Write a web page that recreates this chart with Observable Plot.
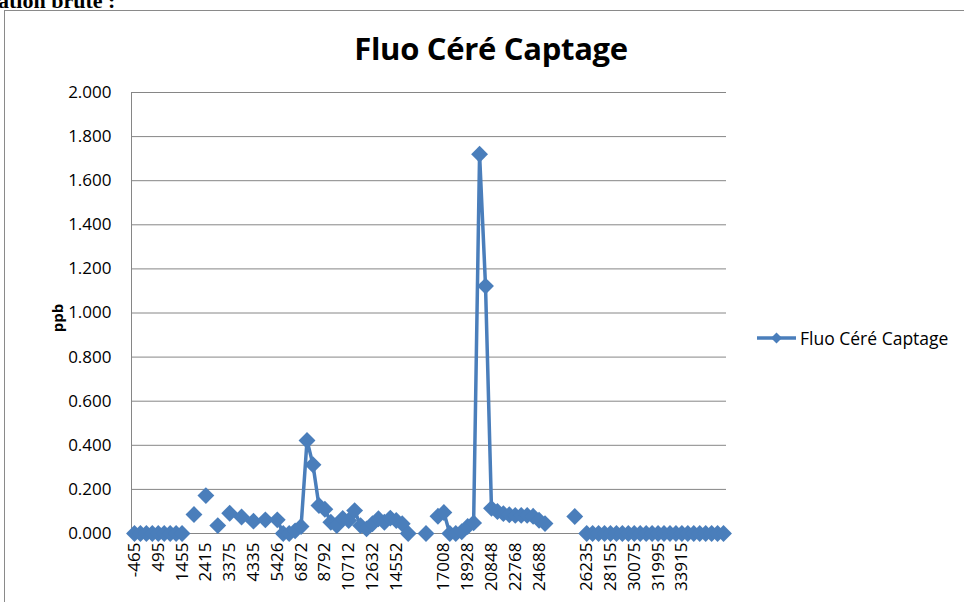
<!DOCTYPE html>
<html>
<head>
<meta charset="utf-8">
<script src="https://cdn.jsdelivr.net/npm/d3@7"></script>
<script src="https://cdn.jsdelivr.net/npm/@observablehq/plot@0.6"></script>
<style>
  html, body { margin: 0; padding: 0; background: #fff; }
  #wrap { position: relative; width: 964px; height: 602px; overflow: hidden; font-family: "Open Sans", sans-serif; }
  #heading { position: absolute; left: -2px; top: -12px; font: bold 22px "Liberation Serif", serif; color: #000; white-space: nowrap; }
  #box { position: absolute; left: 4px; top: 10px; width: 1100px; height: 700px; border: 1.5px solid #8a8a8a; box-sizing: border-box; }
  #title { position: absolute; left: 491px; top: 27px; transform: translateX(-50%); font: 700 31px "Open Sans", sans-serif; color: #000; white-space: nowrap; letter-spacing: -0.3px; }
  #ylabel { position: absolute; left: 57px; top: 318px; transform: translate(-50%, -50%) rotate(-90deg); font: 700 15px "Open Sans", sans-serif; color: #000; }
  #legend { position: absolute; left: 756px; top: 326px; display: flex; align-items: center; font: 17.5px "Open Sans", sans-serif; color: #000; white-space: nowrap; }
  #chart { position: absolute; left: 0; top: 0; }
</style>
</head>
<body>
<div id="wrap">
  <div id="heading">ation brute :</div>
  <div id="box"></div>
  <div id="chart"></div>
  <div id="title">Fluo Céré Captage</div>
  <div id="ylabel">ppb</div>
  <div id="legend"></div>
</div>
<script>
// Category tick labels (shown every 4th category; blanks are empty cells)
const xTickLabels = ["-465","495","1455","2415","3375","4335","5426","6872","8792","10712","12632","14552","","17008","18928","20848","22768","24688","","26235","28155","30075","31995","33915",""];
const labelEvery = 4;
const seriesName = "Fluo Céré Captage";
// Series values in ppb, one per category (null = no reading)
const values = [
  0, 0, 0, 0, 0, 0, 0, 0, 0, null,
  0.086, null, 0.172, null, 0.036, null, 0.092, null, 0.075, null,
  0.056, null, 0.062, null, 0.062, 0, 0, 0.012, 0.032, 0.422,
  0.312, 0.127, 0.110, 0.051, 0.036, 0.068, 0.059, 0.104, 0.036, 0.021,
  0.044, 0.067, 0.051, 0.070, 0.059, 0.044, 0, null, null, 0,
  null, 0.078, 0.095, 0, 0, 0.008, 0.032, 0.048, 1.720, 1.122,
  0.114, 0.100, 0.090, 0.085, 0.082, 0.082, 0.082, 0.078, 0.060, 0.045,
  null, null, null, null, 0.077, null, 0, 0, 0, 0,
  0, 0, 0, 0, 0, 0, 0, 0, 0, 0,
  0, 0, 0, 0, 0, 0, 0, 0, 0, 0
];
const yTicks = [0, 0.2, 0.4, 0.6, 0.8, 1.0, 1.2, 1.4, 1.6, 1.8, 2.0];

const color = "#4a7ebb";
const data = values.map((v, i) => ({i, v}));
const xDomain = [-0.5, values.length - 0.5];
const xTicks = xTickLabels.map((_, k) => k * labelEvery);

const chart = Plot.plot({
  width: 964,
  height: 602,
  marginLeft: 131,
  marginRight: 238,
  marginTop: 92,
  marginBottom: 69,
  style: {fontFamily: "Open Sans, sans-serif", fontSize: "17px", color: "#000", background: "transparent", overflow: "visible"},
  x: {domain: xDomain},
  y: {domain: [0, 2]},
  marks: [
    Plot.gridY({ticks: yTicks, stroke: "#868686", strokeOpacity: 1, strokeWidth: 1}),
    Plot.ruleX([xDomain[0]], {stroke: "#868686", strokeWidth: 1}),
    Plot.axisY({ticks: yTicks, tickFormat: d3.format(".3f"), tickSize: 0, tickPadding: 20, label: null, fontSize: 17}),
    Plot.axisX({ticks: xTicks, tickFormat: (t) => xTickLabels[t / labelEvery], tickRotate: -90, tickSize: 0, tickPadding: 9, label: null, fontSize: 17}),
    Plot.line(data, {x: "i", y: "v", stroke: color, strokeWidth: 3.5, curve: "linear"}),
    Plot.dot(data.filter(d => d.v != null), {x: "i", y: "v", symbol: "diamond2", r: 7.6, fill: color, stroke: "none"})
  ]
});
document.getElementById("chart").appendChild(chart);

// Legend
const lg = document.getElementById("legend");
const svgNS = "http://www.w3.org/2000/svg";
const ls = document.createElementNS(svgNS, "svg");
ls.setAttribute("width", "42"); ls.setAttribute("height", "20");
ls.innerHTML = `<line x1="1" y1="10" x2="40" y2="10" stroke="${color}" stroke-width="3.5"/>` +
  `<path d="M20.5,4.5 L26,10 L20.5,15.5 L15,10 Z" fill="${color}"/>`;
lg.appendChild(ls);
const lt = document.createElement("span");
lt.textContent = seriesName;
lt.style.marginLeft = "2px";
lg.appendChild(lt);
</script>
</body>
</html>
